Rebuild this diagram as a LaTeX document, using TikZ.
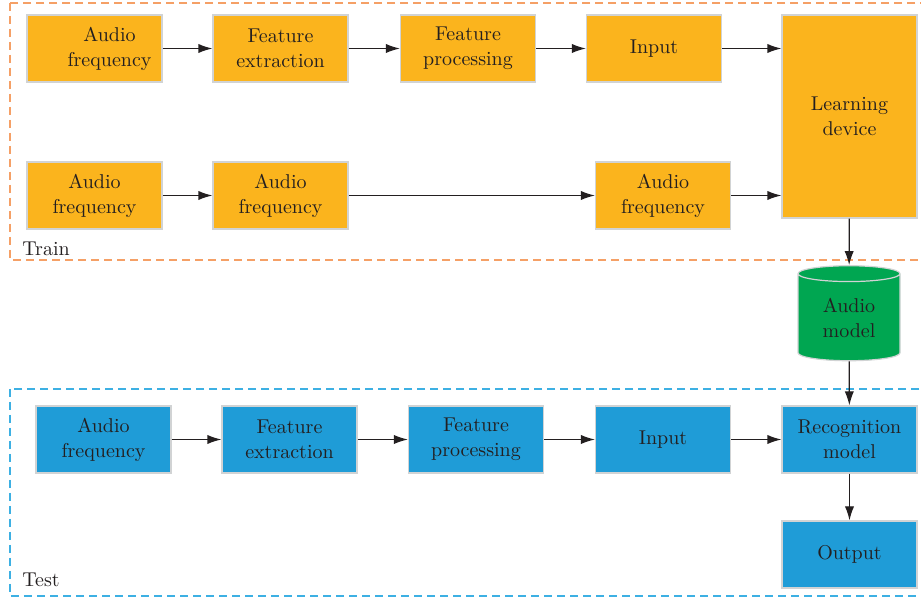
\documentclass[tikz,border=0pt]{standalone}
\usepackage{tikz}
\usetikzlibrary{arrows.meta,shapes.geometric}

\definecolor{trainfill}{HTML}{FBB41D}
\definecolor{testfill}{HTML}{1F9CD7}
\definecolor{modelfill}{HTML}{00A651}
\definecolor{boxline}{HTML}{D1D3D4}
\definecolor{trainline}{HTML}{F5A066}
\definecolor{testline}{HTML}{3DB0E3}
\definecolor{txt}{HTML}{231F20}

\begin{document}
\begin{tikzpicture}[x=0.5pt,y=-0.5pt,
  font=\fontsize{10}{12.5}\selectfont, text=txt,
  box/.style={draw=boxline,line width=0.6pt,minimum width=67.5pt,minimum height=33.5pt,align=center,inner sep=0pt},
  trainbox/.style={box,fill=trainfill},
  testbox/.style={box,fill=testfill},
  frame/.style={dash pattern=on 4pt off 2.5pt,line width=0.75pt},
  arr/.style={-{Latex[length=7pt,width=4.6pt]},line width=0.6pt,draw=txt}]
\clip (0,0) rectangle (921,597);
\fill[white] (0,0) rectangle (921,597);

\draw[frame,draw=trainline] (10,3) rectangle (940,260);
\draw[frame,draw=testline] (10,389) rectangle (940,596);
\node[anchor=base west,inner sep=0pt] (trainlbl) at (22,256) {Train};
\node[anchor=base west,inner sep=0pt] (testlbl) at (22,587) {Test};

\node[trainbox] (af1) at (94.5,48.5) {\hspace*{15pt}Audio\\\hspace*{15pt}frequency};
\node[trainbox] (fe1) at (280.5,48.5) {Feature\\extraction};
\node[trainbox] (fp1) at (468,48.5) {Feature\\processing};
\node[trainbox] (in1) at (654,48.5) {Input};
\node[trainbox,minimum height=101.5pt] (ld) at (849.5,116.5) {Learning\\device};

\node[trainbox] (af2) at (94.5,195.5) {Audio\\frequency};
\node[trainbox] (af3) at (280.5,195.5) {Audio\\frequency};
\node[trainbox] (af4) at (663,195.5) {Audio\\frequency};

\node[cylinder,shape border rotate=90,aspect=0.3,draw=boxline,line width=0.6pt,fill=modelfill,
  minimum width=51pt,minimum height=47.5pt,align=center,inner sep=0pt] (am) at (849,317.5) {Audio\\model};

\node[testbox] (af5) at (103.5,439.5) {Audio\\frequency};
\node[testbox] (fe2) at (289.5,439.5) {Feature\\extraction};
\node[testbox] (fp2) at (476,439.5) {Feature\\processing};
\node[testbox] (in2) at (663,439.5) {Input};
\node[testbox] (rm) at (849.5,439.5) {Recognition\\model};
\node[testbox] (out) at (849.5,554.5) {Output};

\draw[arr] (af1) -- (fe1);
\draw[arr] (fe1) -- (fp1);
\draw[arr] (fp1) -- (in1);
\draw[arr] (in1.east) -- (in1.east -| ld.west);
\draw[arr] (af2) -- (af3);
\draw[arr] (af3) -- (af4);
\draw[arr] (af4.east) -- (af4.east -| ld.west);
\draw[arr] (ld) -- (am);
\draw[arr] (am) -- (rm);
\draw[arr] (af5) -- (fe2);
\draw[arr] (fe2) -- (fp2);
\draw[arr] (fp2) -- (in2);
\draw[arr] (in2) -- (rm);
\draw[arr] (rm) -- (out);
\end{tikzpicture}
\end{document}
